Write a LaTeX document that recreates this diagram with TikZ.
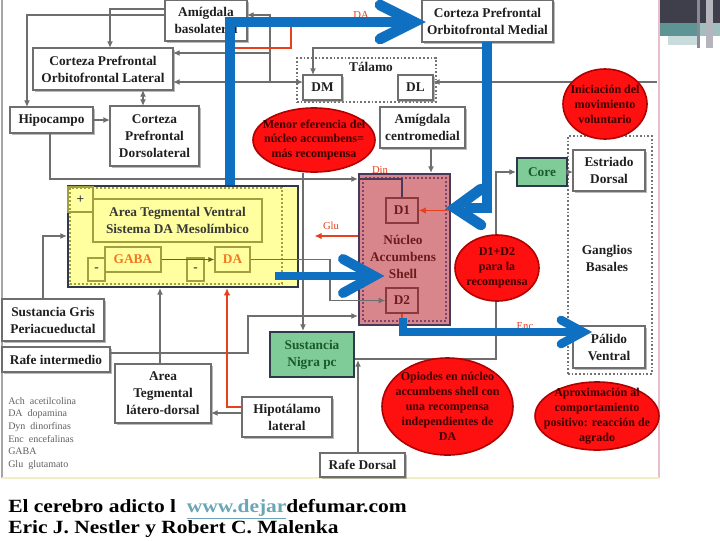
\documentclass[tikz,border=0pt]{standalone}
\usepackage{fontspec}
\setmainfont{Liberation Serif}
\usepackage{graphicx}
\usetikzlibrary{shapes.geometric,arrows.meta,shadows}
\definecolor{linec}{HTML}{6E6E6E}
\definecolor{redl}{HTML}{E8401C}
\definecolor{blueA}{HTML}{0F6FC0}
\definecolor{ellf}{HTML}{FF1010}
\definecolor{elld}{HTML}{B00000}
\definecolor{yel}{HTML}{FFFFA0}
\definecolor{olivec}{HTML}{A0A040}
\definecolor{olived}{HTML}{64641E}
\definecolor{pinkf}{HTML}{D9858C}
\definecolor{pinkb}{HTML}{4A3A5A}
\definecolor{pinkdot}{HTML}{78466E}
\definecolor{pinkin}{HTML}{8A3A3A}
\definecolor{maroonc}{HTML}{6A1C1C}
\definecolor{greenf}{HTML}{80CC98}
\definecolor{greent}{HTML}{1A5A28}
\definecolor{darkb}{HTML}{2E3A4A}
\definecolor{orangeT}{HTML}{F07820}
\definecolor{urlc}{HTML}{6AA6B6}
\definecolor{etc}{HTML}{3A0000}
\definecolor{frameR}{HTML}{E6BECD}
\definecolor{frameB}{HTML}{F0EEC3}
\definecolor{decoA}{HTML}{3F3F4C}
\definecolor{decoB}{HTML}{5E9494}
\definecolor{decoC}{HTML}{A0C0C0}
\definecolor{decoD}{HTML}{C8DCDC}
\definecolor{decoE}{HTML}{8A8A95}
\definecolor{decoF}{HTML}{B5B5BD}
\begin{document}
\begin{tikzpicture}[x=0.75pt,y=-0.75pt,
  sz/.style 2 args={minimum width={#1*0.75pt},minimum height={#2*0.75pt}},
  bfont/.style={font={\bfseries\fontsize{10}{12.8}\selectfont}},
  box/.style={draw=linec,line width=1pt,fill=white,align=center,inner sep=0pt,outer sep=0pt,text=black!88,bfont,
    drop shadow={shadow xshift=1.2pt,shadow yshift=-1.2pt,fill=black!45,opacity=0.6}},
  txt/.style={align=center,inner sep=0pt,text=black!88,bfont},
  dotbox/.style={draw=black!55,line width=1.3pt,dash pattern=on 1.3pt off 1.5pt,inner sep=0pt},
  vtabox/.style={draw=darkb,line width=1.6pt,fill=yel,inner sep=0pt},
  vtain/.style={draw=olivec,line width=0.9pt,align=center,inner sep=0pt,text=black!78,bfont},
  nacbox/.style={draw=pinkb,line width=1.6pt,fill=pinkf,inner sep=0pt},
  nacin/.style={draw=pinkin,line width=0.9pt,inner sep=0pt,text=maroonc,bfont},
  grbox/.style={draw=darkb,line width=1.6pt,fill=greenf,text=greent,align=center,inner sep=0pt,bfont},
  ell/.style={ellipse,draw=elld,line width=1.2pt,fill=ellf,inner sep=0pt},
  etxt/.style={align=center,inner sep=0pt,text=etc,font={\bfseries\fontsize{9}{11.2}\selectfont}},
  lab/.style={text=redl,inner sep=0pt,font={\fontsize{8}{9}\selectfont}},
  conn/.style={draw=linec,line width=1.1pt,-{Latex[length=5pt,width=4.5pt]}},
  redc/.style={draw=redl,line width=1.4pt,-{Latex[length=5.5pt,width=5pt]}},
  bluearr/.style={draw=blueA,line width=8.2pt,line join=miter},
  bluehead/.style={draw=blueA,line width=8pt,line cap=round,line join=miter},
]
\useasboundingbox (0,0) rectangle (720,540);
\fill[white] (0,0) rectangle (720,540);
% frame of the figure
\draw[black!35,line width=2pt] (2,0) -- (2,478);
\draw[frameR,line width=0.8pt] (659,0) -- (659,478);
\draw[frameB,line width=1.5pt] (2,478) -- (659,478);
% top-right decoration
\fill[decoA] (660,0) rectangle (720,23);
\fill[decoB] (660,23) rectangle (698,36);
\fill[decoC] (698,23) rectangle (720,36);
\fill[decoD] (668,36) rectangle (700,45);
\fill[decoE] (697,0) rectangle (700,48);
\fill[decoF] (706,0) rectangle (713,48);

% ---- boxes
\node[box,sz={82}{41}] (amb) at (206,20.5) {Amígdala\\basolateral};
\node[box,sz={131}{42}] (cofm) at (487.5,21) {Corteza Prefrontal\\Orbitofrontal Medial};
\node[box,sz={140}{42}] (cofl) at (103,69) {Corteza Prefrontal\\Orbitofrontal Lateral};
\node[dotbox,sz={139}{44}] (tal) at (366.5,80) {};
\node[txt] (talt) at (371,67) {Tálamo};
\node[box,sz={39}{25}] (dm) at (322.5,87.5) {DM};
\node[box,sz={35}{25}] (dl) at (415.5,87.5) {DL};
\node[box,sz={83}{26}] (hip) at (51.5,120) {Hipocampo};
\node[box,sz={89}{60}] (cpfdl) at (154.5,136) {Corteza\\Prefrontal\\Dorsolateral};
\node[box,sz={85}{41}] (amc) at (422.5,127.5) {Amígdala\\centromedial};

% VTA
\node[vtabox,sz={230}{101}] (vta) at (183,236.5) {};
\draw[olivec,line width=1pt,dash pattern=on 1.2pt off 1.8pt] (70,188) rectangle (282,284);
\node[vtain,sz={25}{25}] (plus) at (80.5,199.5) {+};
\node[vtain,sz={169}{43}] (atv) at (177.5,220.5) {Area Tegmental Ventral\\Sistema DA Mesolímbico};
\node[vtain,sz={17}{23}] (m1) at (96.5,269.5) {-};
\node[vtain,sz={17}{23}] (m2) at (195.5,269.5) {-};
\node[vtain,sz={56}{25},text=orangeT] (gaba) at (133,259.5) {GABA};
\node[vtain,sz={35}{25},text=orangeT] (da) at (232.5,259.5) {DA};
\draw[draw=olived,line width=0.9pt,-{Latex[length=4.5pt,width=4pt]}] (gaba.east) -- (da.west);

% Nucleus accumbens
\node[nacbox,sz={91}{151}] (nac) at (404.5,249.5) {};
\draw[pinkdot,line width=1pt,dash pattern=on 1.2pt off 1.8pt] (363,178) rectangle (446,321);
\node[nacin,sz={32}{25}] (d1) at (402,210.5) {D1};
\node[nacin,sz={32}{25}] (d2) at (402,300.5) {D2};
\node[txt,text=maroonc,font={\bfseries\fontsize{10}{13}\selectfont}] (nact) at (403,257) {Núcleo\\Accumbens\\Shell};

% basal ganglia
\node[dotbox,sz={84}{238}] (gb) at (610,255) {};
\node[grbox,sz={50}{28}] (core) at (542,172) {Core};
\node[box,sz={72}{41}] (ed) at (609,170.5) {Estriado\\Dorsal};
\node[txt] (gbt) at (607,258) {Ganglios\\Basales};
\node[box,sz={72}{42}] (pv) at (609,347) {Pálido\\Ventral};

% lower boxes
\node[box,sz={102}{42}] (sgp) at (53,320) {Sustancia Gris\\Periacueductal};
\node[box,sz={108}{25}] (rafi) at (56,359.5) {Rafe intermedio};
\node[grbox,sz={84}{45}] (sn) at (312,354.5) {Sustancia\\Nigra pc};
\node[box,sz={96}{59}] (atld) at (163,393.5) {Area\\Tegmental\\látero-dorsal};
\node[box,sz={90}{40}] (hl) at (287,417) {Hipotálamo\\lateral};
\node[box,sz={85}{24}] (rd) at (362.5,465) {Rafe Dorsal};

% ---- connectors
\coordinate (j1) at (270,82);
\coordinate (j2) at (270,53);
\coordinate (rframe) at (657,82);
\coordinate (rdj) at (358,360);
\draw[conn] (amb.west |- 0,15) -| (hip.north -| 27,0);
\draw[conn] (amb.west |- 0,9) -| (cofl.north -| 110,0);
\draw[conn] (j1) |- (amb.east |- 0,15);
\draw[conn] (j2) -- (cofl.east |- j2);
\draw[conn] (j1) -- (cofl.east |- j1);
\draw[conn] (j1) -- (dm.west |- j1);
\draw[conn] (cofm.south -| 489,0) -- (489,48) -| (dm.north -| 313,0);
\draw[conn] (rframe) -- (dl.east |- rframe);
\draw[draw=linec,line width=1.1pt,{Latex[length=5pt,width=4.5pt]}-{Latex[length=5pt,width=4.5pt]}] (cofl.south -| 143,0) -- (cpfdl.north -| 143,0);
\draw[conn] (hip.east) -- (cpfdl.west |- hip.east);
\draw[conn] (hip.south -| 50,0) |- (nac.west |- 0,179);
\draw[draw=pinkb,line width=0.9pt] (nac.west |- 0,179) -| (d1.north);
\draw[conn] (amc.south -| 431,0) -- (nac.north -| 431,0);
\draw[conn] (da.east) -- (330,259.5) |- (d2.west);
\draw[conn] (rafi.east |- 0,353) -- (248,353) |- (nac.west |- 0,316);
\draw[conn] (atld.north -| 160,0) -- (vta.south -| 160,0);
\draw[conn] (sgp.north -| 43,0) |- (vta.west |- 0,236);
\draw[conn] (hl.west |- 0,413) -- (atld.east |- 0,413);
\draw[conn] (sn.east |- 0,359) -- (496,359) |- (core.west);
\draw[conn] (rd.north -| rdj) -- (rdj);
\draw[conn] (core.east) -- (ed.west |- core.east);
% red projections
\draw[redc] (hl.west |- 0,407) -| (vta.south -| 227,0);
\draw[redc,shorten >=11.5pt] (nac.west |- 0,236) -- (vta.east |- 0,236);
\draw[redc] (vta.north -| 229,0) |- (291,48) |- (cofm.west |- 0,22);
\draw[redc] (cofm.south -| 484,0) |- (d1.east);
\draw[redc] (d2.south) |- (pv.west |- 0,332);
\node[lab] (lda) at (361,15) {DA};
\node[lab] (lglu) at (331,226) {Glu};
\node[lab] (ldin) at (380,170) {Din};
\node[lab] (lenc) at (525,326) {Enc};

% ---- red ellipses
\node[ell,sz={122}{64}] (e1) at (314,140) {};
\node[etxt] at (e1) {Menor eferencia del\\núcleo accumbens=\\más recompensa};
\node[ell,sz={84}{70}] (e2) at (605,104) {};
\node[etxt] at (e2) {Iniciación del\\movimiento\\voluntario};
\node[ell,sz={84}{66}] (e3) at (497,268) {};
\node[etxt] at (e3) {D1+D2\\para la\\recompensa};
\node[ell,sz={131}{97}] (e4) at (447.5,406.5) {};
\node[etxt] at (e4) {Opiodes en núcleo\\accumbens shell con\\una recompensa\\independientes de\\DA};
\node[ell,sz={124}{68}] (e5) at (597,416) {};
\node[etxt] at (e5) {Aproximación al\\comportamiento\\positivo: reacción de\\agrado};
\draw[conn] (e1.south -| 303,0) -- (sn.north -| 303,0);

% ---- legend
\node[anchor=north west,inner sep=0pt,align=left,text=black!62,font={\fontsize{7.5}{9.5}\selectfont}] (leg) at (8,397)
 {Ach\ \ acetilcolina\\DA\ \ dopamina\\Dyn\ \ dinorfinas\\Enc\ \ encefalinas\\GABA\\Glu\ \ glutamato};

% ---- blue highlight arrows
\draw[bluearr] (vta.north -| 230,0) -- (230,22) -- (402,22);
\draw[bluehead] (380,5) -- (414,22) -- (380,39);
\draw[bluearr] (cofm.south -| 487,0) -- (487,208) -- (465,208);
\draw[bluehead] (481,189) -- (455,208) -- (481,225);
\draw[draw=blueA,line width=6.5pt] (275,276) -- (366,276);
\draw[bluehead,line width=7.5pt] (343,259) -- (374,276) -- (343,293);
\draw[draw=blueA,line width=5.5pt] (403,318) -- (403,332) -- (576,332);
\draw[bluehead,line width=6.5pt] (561,320) -- (583,332) -- (561,344);

% ---- caption
\node[anchor=base west,inner sep=0pt] (cap1) at (8,512)
 {\scalebox{1.15}[1]{\bfseries\fontsize{14}{16}\selectfont El cerebro adicto l\ \ {\color{urlc}\underline{www.dejar}}defumar.com}};
\node[anchor=base west,inner sep=0pt] (cap2) at (8,533)
 {\scalebox{1.15}[1]{\bfseries\fontsize{14}{16}\selectfont Eric J. Nestler y Robert C. Malenka}};
\end{tikzpicture}
\end{document}
